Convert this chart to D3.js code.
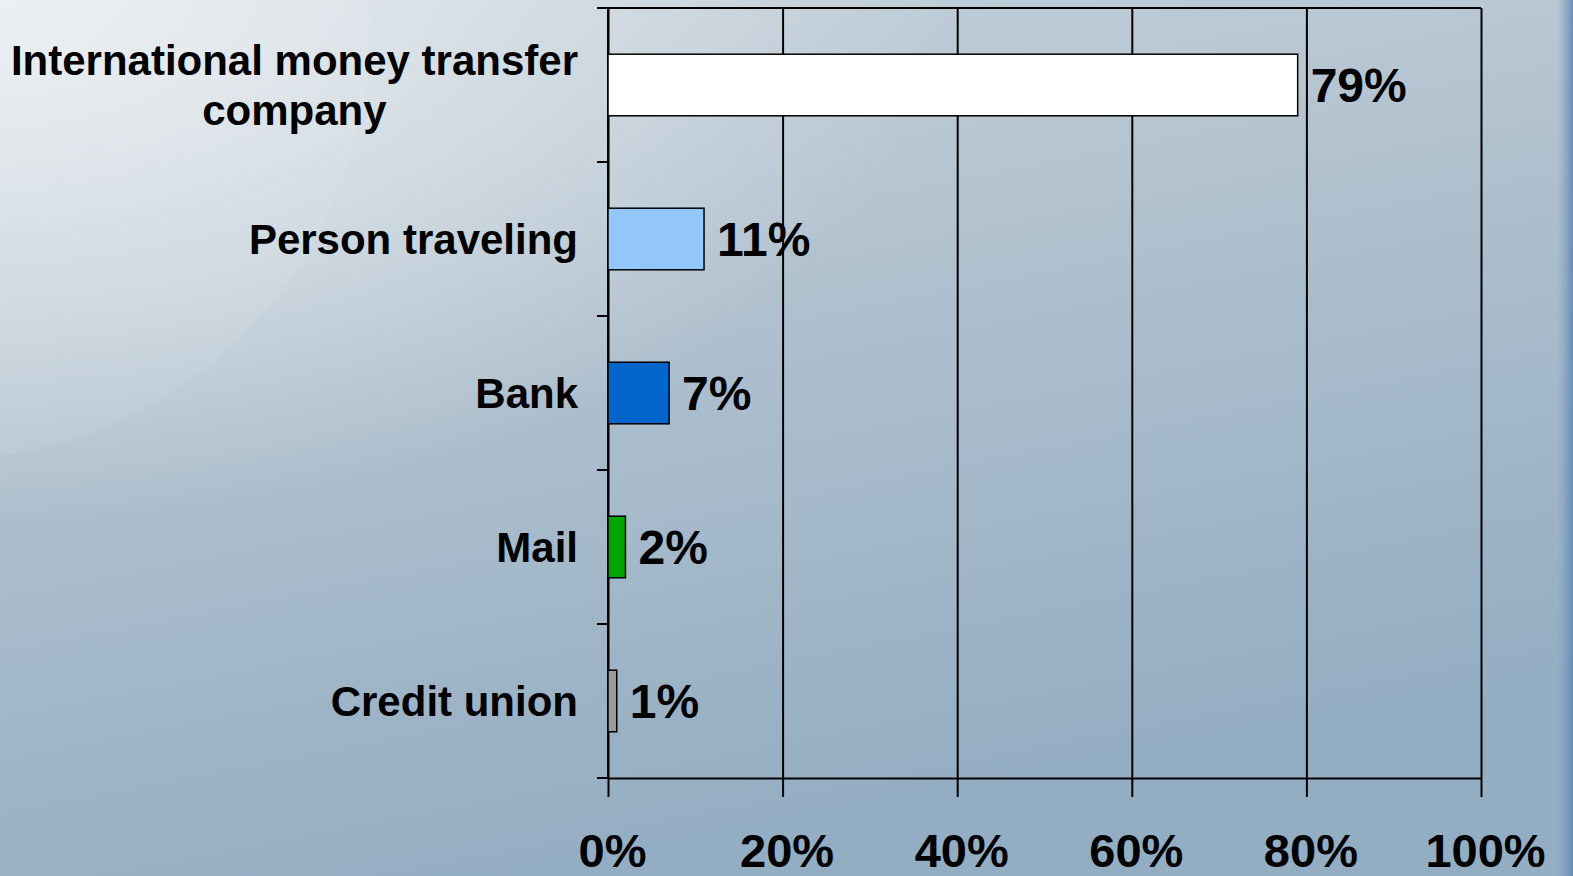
<!DOCTYPE html>
<html>
<head>
<meta charset="utf-8">
<script src="https://cdn.jsdelivr.net/npm/d3@7"></script>
<style>
  html, body { margin: 0; padding: 0; overflow: hidden; }
  svg { display: block; font-family: "Liberation Sans", Arial, sans-serif; font-weight: bold; }
</style>
</head>
<body>
<svg id="chart"></svg>
<script>
// data
const categories = ["International money transfer company", "Person traveling", "Bank", "Mail", "Credit union"];
const values = [79, 11, 7, 2, 1];
const barColors = ["#ffffff", "#93c6fb", "#0066cc", "#00a600", "#9c9c9c"];
const xTicks = [0, 20, 40, 60, 80, 100];

const width = 1573, height = 876;
const margin = {top: 8, right: 92, bottom: 98, left: 608};
const w = width - margin.left - margin.right;   // plot width
const h = height - margin.top - margin.bottom;  // plot height

const svg = d3.select("#chart")
  .attr("width", width)
  .attr("height", height);

// background: slide gradient with a soft light swoosh in the upper left
const defs = svg.append("defs");
const bg = defs.append("linearGradient").attr("id", "bg")
  .attr("x1", "0").attr("y1", "0").attr("x2", "0.35").attr("y2", "1");
bg.append("stop").attr("offset", "0").attr("stop-color", "#c9d4dc");
bg.append("stop").attr("offset", "0.45").attr("stop-color", "#b0c1ce");
bg.append("stop").attr("offset", "1").attr("stop-color", "#93adc2");

const glow = defs.append("radialGradient").attr("id", "glow")
  .attr("cx", "0").attr("cy", "0").attr("r", "0.6");
glow.append("stop").attr("offset", "0").attr("stop-color", "#eef1f3").attr("stop-opacity", 0.95);
glow.append("stop").attr("offset", "1").attr("stop-color", "#eef1f3").attr("stop-opacity", 0);

const edge = defs.append("linearGradient").attr("id", "edge")
  .attr("x1", "0").attr("y1", "0").attr("x2", "1").attr("y2", "0");
edge.append("stop").attr("offset", "0").attr("stop-color", "#7f9fc0").attr("stop-opacity", 0);
edge.append("stop").attr("offset", "1").attr("stop-color", "#5f86b2").attr("stop-opacity", 0.9);

svg.append("rect").attr("width", width).attr("height", height).attr("fill", "url(#bg)");
svg.append("circle")
  .attr("cx", -60).attr("cy", 30).attr("r", 430)
  .attr("fill", "#ffffff").attr("opacity", 0.07);
svg.append("rect").attr("width", width).attr("height", height).attr("fill", "url(#glow)");
svg.append("rect").attr("x", width - 16).attr("width", 16).attr("height", height).attr("fill", "url(#edge)");

const g = svg.append("g").attr("transform", `translate(${margin.left},${margin.top})`);

// scales
const x = d3.scaleLinear().domain([0, 100]).range([0, w]);
const y = d3.scaleBand().domain(categories).range([0, h])
  .paddingInner(0.6).paddingOuter(0.3);
const color = d3.scaleOrdinal().domain(categories).range(barColors);

// vertical gridlines
g.append("g")
  .call(d3.axisBottom(x).tickValues(xTicks).tickSize(h).tickFormat(""))
  .call(a => a.select(".domain").remove())
  .selectAll("line").attr("stroke", "#000").attr("stroke-width", 2);

// plot frame top
g.append("line").attr("x1", 0).attr("x2", w).attr("y1", 0).attr("y2", 0)
  .attr("stroke", "#000").attr("stroke-width", 2);

// x axis
const xAxis = g.append("g")
  .attr("transform", `translate(0,${h})`)
  .call(d3.axisBottom(x).tickValues(xTicks).tickSizeInner(19).tickSizeOuter(0).tickFormat(d => d + "%"));
xAxis.select(".domain").attr("stroke", "#000").attr("stroke-width", 2);
xAxis.selectAll("line").attr("stroke", "#000").attr("stroke-width", 2);
xAxis.selectAll("text")
  .attr("y", 89).attr("dy", 0).attr("dx", 4)
  .attr("fill", "#000")
  .style("font-size", "47px").style("font-weight", "bold")
  .style("font-family", "'Liberation Sans', Arial, sans-serif");

// y axis line and ticks at band edges
const step = y.step();
const edges = categories.map(d => y(d) - step * y.paddingInner() / 2).concat([h]);
g.append("line").attr("x1", 0).attr("x2", 0).attr("y1", 0).attr("y2", h)
  .attr("stroke", "#000").attr("stroke-width", 2);
g.selectAll(".ytick").data(edges).enter().append("line")
  .attr("class", "ytick")
  .attr("x1", -11).attr("x2", 0)
  .attr("y1", d => d).attr("y2", d => d)
  .attr("stroke", "#000").attr("stroke-width", 2);

// bars
g.selectAll(".bar").data(values).enter().append("rect")
  .attr("class", "bar")
  .attr("x", x(0))
  .attr("y", (d, i) => y(categories[i]))
  .attr("width", d => x(d) - x(0))
  .attr("height", y.bandwidth())
  .attr("fill", (d, i) => color(categories[i]))
  .attr("stroke", "#000")
  .attr("stroke-width", 1.5);

// value labels
g.selectAll(".val").data(values).enter().append("text")
  .attr("class", "val")
  .attr("x", d => x(d) + 13)
  .attr("y", (d, i) => y(categories[i]) + y.bandwidth() / 2)
  .attr("dy", "0.36em")
  .style("font-size", "48px")
  .text(d => d + "%");

// category labels, wrapped to fit the left margin and centred as a block
const labelRight = -30, maxLabel = 570, lineH = 50;
categories.forEach(cat => {
  const cy = y(cat) + y.bandwidth() / 2;
  const t = g.append("text").style("font-size", "42px").attr("text-anchor", "middle");
  const words = cat.split(" ");
  let lines = [], line = [];
  const probe = t.append("tspan");
  words.forEach(wd => {
    line.push(wd);
    probe.text(line.join(" "));
    if (probe.node().getComputedTextLength() > maxLabel && line.length > 1) {
      line.pop();
      lines.push(line.join(" "));
      line = [wd];
    }
  });
  lines.push(line.join(" "));
  let maxW = 0;
  lines.forEach(l => { probe.text(l); maxW = Math.max(maxW, probe.node().getComputedTextLength()); });
  probe.remove();
  const cx = labelRight - maxW / 2;
  lines.forEach((l, i) => {
    t.append("tspan")
      .attr("x", cx)
      .attr("y", cy + (i - (lines.length - 1) / 2) * lineH)
      .attr("dy", "0.36em")
      .text(l);
  });
});
</script>
</body>
</html>
